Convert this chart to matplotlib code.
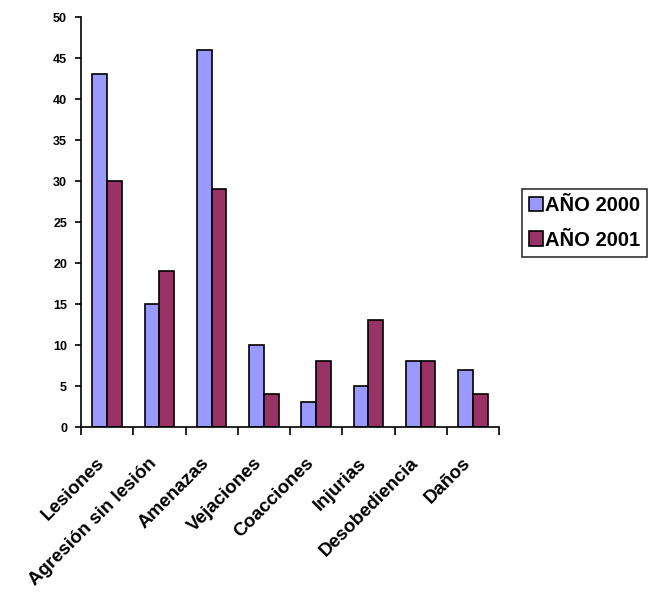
import numpy as np
import matplotlib.pyplot as plt
import matplotlib.transforms as mtransforms

categories = ['Lesiones', 'Agresión sin lesión', 'Amenazas', 'Vejaciones',
              'Coacciones', 'Injurias', 'Desobediencia', 'Daños']
anio_2000 = [43, 15, 46, 10, 3, 5, 8, 7]
anio_2001 = [30, 19, 29, 4, 8, 13, 8, 4]

plt.rcParams['font.family'] = ['Liberation Sans', 'DejaVu Sans']
plt.rcParams['font.weight'] = 'bold'

fig = plt.figure(figsize=(6.48, 5.96), dpi=100)
ax = fig.add_axes([81 / 648, 1 - 427 / 596, 418 / 648, 410 / 596])

x = np.arange(len(categories))
w = 0.28
ax.bar(x - w / 2, anio_2000, w, color='#9999FF', edgecolor='black', linewidth=1.2, label='AÑO 2000')
ax.bar(x + w / 2, anio_2001, w, color='#993366', edgecolor='black', linewidth=1.2, label='AÑO 2001')

ax.set_xlim(-0.5, len(categories) - 0.5)
ax.set_ylim(0, 50)
ax.set_yticks(range(0, 51, 5))
ax.tick_params(axis='y', labelsize=9, length=4, width=1.2, pad=6)

# major ticks at the group borders, labels on minor ticks at the centres
ax.set_xticks(np.arange(-0.5, len(categories)))
ax.set_xticklabels([])
ax.tick_params(axis='x', length=6, width=1.2)
ax.set_xticks(x, minor=True)
ax.set_xticklabels(categories, minor=True, rotation=45, ha='right', va='top',
                   rotation_mode='anchor', fontsize=13.5)
ax.tick_params(axis='x', which='minor', length=0, pad=20)
offset = mtransforms.ScaledTranslation(-0.11, 0, fig.dpi_scale_trans)
for lbl in ax.get_xticklabels(minor=True):
    lbl.set_transform(lbl.get_transform() + offset)

for s in ['top', 'right']:
    ax.spines[s].set_visible(False)
for s in ['left', 'bottom']:
    ax.spines[s].set_linewidth(1.2)

leg = fig.legend(loc='upper left', bbox_to_anchor=(522 / 648, 1 - 189 / 596),
                 fontsize=14.5, frameon=True, fancybox=False, edgecolor='black',
                 handlelength=0.7, handleheight=0.7, handletextpad=0.1,
                 borderpad=0.35, labelspacing=0.77, borderaxespad=0)
leg.get_frame().set_linewidth(1.2)

fig.savefig('out.png', dpi=100)
